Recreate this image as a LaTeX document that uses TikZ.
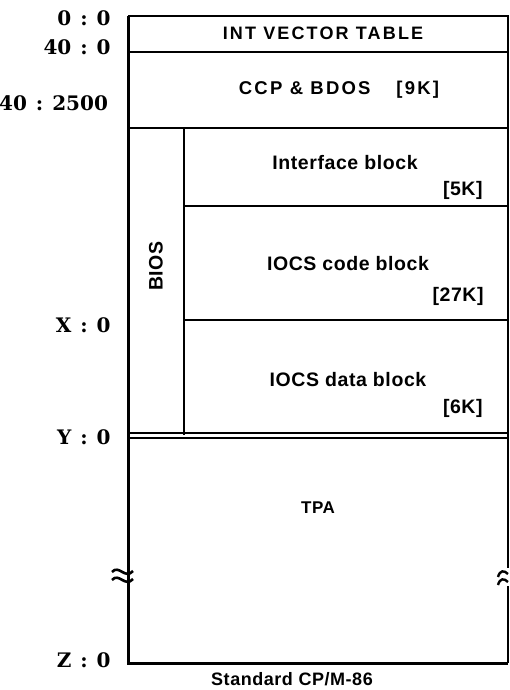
\documentclass[tikz,border=0pt]{standalone}
\usepackage{fontspec}
\setmainfont{Liberation Serif}
\newfontfamily\blkfont[LetterSpace=3]{Liberation Sans}
\newfontfamily\capfont[LetterSpace=12]{Liberation Sans}
\newfontfamily\addrfont{DejaVu Serif}
\newcommand{\addrsep}{\hspace{0.45em}:\hspace{0.45em}}
\usetikzlibrary{positioning}

\begin{document}
\begin{tikzpicture}[x=1pt, y=-1pt, line width=2pt,
  addr/.style={anchor=east, font=\addrfont\fontsize{20}{20}\selectfont\bfseries},
  blk/.style={font=\blkfont\fontsize{19.5}{19.5}\selectfont\bfseries},
  capblk/.style={font=\capfont\fontsize{18}{18}\selectfont\bfseries},
  ksize/.style={anchor=east, font=\blkfont\fontsize{19.5}{19.5}\selectfont\bfseries}]
  \useasboundingbox (0,0) rectangle (510,690);
  % memory frame
  \draw[line width=3pt] (128,16) -- (128,663) -- (508,663);
  \draw (128,16) -- (508,16) -- (508,663);
  \draw[line width=2.6pt] (128,52) -- (508,52);
  \draw[line width=2.6pt] (128,128) -- (508,128);
  \draw (184,128) -- (184,435);
  \draw[line width=2.4pt] (184,206) -- (508,206);
  \draw[line width=2.4pt] (184,320) -- (508,320);
  \draw[line width=2.6pt] (128,433) -- (508,433);
  \draw[line width=2.6pt] (128,438) -- (508,438);
  % break marks
  \draw[line width=2.4pt, white] (508,568) -- (508,586);
  \draw[line width=2.6pt] (112,572) .. controls (119,564) and (125,580) .. (133,571);
  \draw[line width=2.6pt] (112,580) .. controls (119,572) and (125,588) .. (133,579);
  \draw[line width=2.4pt] (498,577) .. controls (500,570) and (504,570) .. (508,574);
  \draw[line width=2.4pt] (498,585) .. controls (500,578) and (504,578) .. (508,582);
  % addresses
  \node[addr] (a0) at (115,18) {0\addrsep 0};
  \node[addr] (a40) at (115,47) {40\addrsep 0};
  \node[addr, inner xsep=2pt] (a2500) at (111,103) {40\addrsep 2500};
  \node[addr] (ax) at (115,325) {X\addrsep 0};
  \node[addr] (ay) at (115,437) {Y\addrsep 0};
  \node[addr] (az) at (115,660) {Z\addrsep 0};
  % blocks
  \node[capblk] (ivt) at (323,33) {INT VECTOR TABLE};
  \node[capblk, font=\capfont\fontsize{18.5}{18.5}\selectfont\bfseries] (bdos) at (339,90) {CCP \& BDOS\quad\ [9K]};
  \node[blk, rotate=90] (bios) at (156,266) {BIOS};
  \node[blk] (intf) at (345,163) {Interface block};
  \node[ksize] (intfk) at (487,190) {[5K]};
  \node[blk] (code) at (348,264) {IOCS code block};
  \node[ksize] (codek) at (488,296) {[27K]};
  \node[blk] (data) at (348,380) {IOCS data block};
  \node[ksize] (datak) at (487,408) {[6K]};
  \node[blk, font=\blkfont\fontsize{17}{17}\selectfont\bfseries] (tpa) at (318,508) {TPA};
  \node[blk, font=\blkfont\fontsize{18}{18}\selectfont\bfseries] (cpm) at (292,679) {Standard CP/M-86};
\end{tikzpicture}
\end{document}
